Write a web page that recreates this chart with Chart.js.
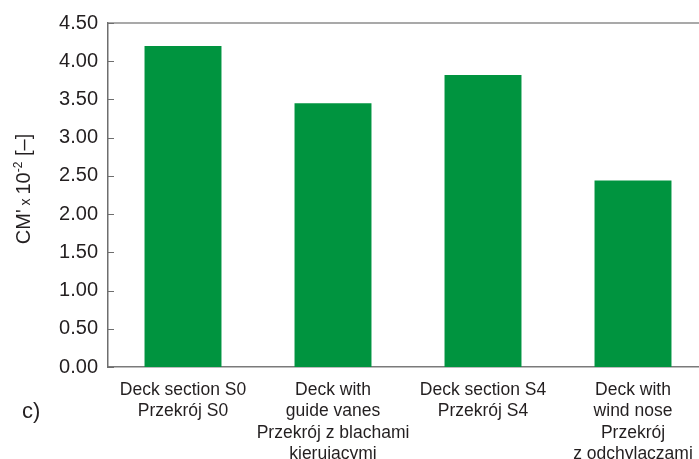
<!DOCTYPE html>
<html>
<head>
<meta charset="utf-8">
<script src="https://cdn.jsdelivr.net/npm/chart.js@4.4.1/dist/chart.umd.min.js"></script>
<style>
  html, body { margin: 0; padding: 0; background: #fff; overflow: hidden; }
  #wrap { position: absolute; left: 0; top: 0; width: 712px; height: 459px; }
</style>
</head>
<body>
<div id="wrap"><canvas id="c" width="712" height="459"></canvas></div>
<script>
// Aerodynamic moment coefficient CM' (x 10^-2) for four deck configurations
const categories = [
  ["Deck section S0", "Przekrój S0"],
  ["Deck with", "guide vanes", "Przekrój z blachami", "kierujacymi"],
  ["Deck section S4", "Przekrój S4"],
  ["Deck with", "wind nose", "Przekrój", "z odchylaczami"]
];
const cmValues = [4.20, 3.45, 3.82, 2.44];
const yTicks = [0, 0.5, 1, 1.5, 2, 2.5, 3, 3.5, 4, 4.5];

const FONT = '"Liberation Sans", Arial, Helvetica, sans-serif';
const TEXT = '#231f20';

// Frame line on top, inward tick marks, rotated axis title and panel label
const decor = {
  id: 'decor',
  afterDraw(chart) {
    const ctx = chart.ctx;
    const area = chart.chartArea;
    const y = chart.scales.y;
    ctx.save();
    // top frame line
    ctx.strokeStyle = '#8c8c8c';
    ctx.lineWidth = 1.6;
    ctx.beginPath();
    ctx.moveTo(area.left, area.top);
    ctx.lineTo(area.right, area.top);
    ctx.stroke();
    // inward ticks on value axis
    ctx.strokeStyle = '#6e6e6e';
    ctx.lineWidth = 1;
    y.ticks.forEach(t => {
      const py = Math.round(y.getPixelForValue(t.value)) + 0.5;
      ctx.beginPath();
      ctx.moveTo(area.left, py);
      ctx.lineTo(area.left + 6, py);
      ctx.stroke();
    });
    // axis title: CM' x 10^-2 [–]
    const parts = [
      { t: "CM'", size: 20, rise: 0 },
      { t: " x ", size: 14, rise: 0 },
      { t: "10", size: 20, rise: 0 },
      { t: "-2", size: 12, rise: 8 },
      { t: " [–]", size: 20, rise: 0 }
    ];
    let total = 0;
    parts.forEach(p => {
      ctx.font = p.size + 'px ' + FONT;
      p.w = ctx.measureText(p.t).width;
      total += p.w;
    });
    const cy = (area.top + area.bottom) / 2 - 6;
    ctx.translate(30, cy);
    ctx.rotate(-Math.PI / 2);
    ctx.fillStyle = TEXT;
    ctx.textBaseline = 'alphabetic';
    let x = -total / 2;
    parts.forEach(p => {
      ctx.font = p.size + 'px ' + FONT;
      ctx.fillText(p.t, x, -p.rise);
      x += p.w;
    });
    ctx.restore();
    // panel label
    ctx.save();
    ctx.font = '22px ' + FONT;
    ctx.fillStyle = TEXT;
    ctx.textBaseline = 'middle';
    ctx.fillText('c)', 22, 412);
    ctx.restore();
  }
};

new Chart(document.getElementById('c'), {
  type: 'bar',
  data: {
    labels: categories,
    datasets: [{
      data: cmValues,
      backgroundColor: '#00943f',
      borderWidth: 0,
      categoryPercentage: 1,
      barPercentage: 0.513
    }]
  },
  options: {
    responsive: false,
    devicePixelRatio: 1,
    animation: false,
    layout: { padding: { left: 0, right: 4, top: 23, bottom: 0 } },
    plugins: { legend: { display: false }, tooltip: { enabled: false } },
    scales: {
      x: {
        grid: { display: false, drawTicks: false },
        border: { display: true, color: '#7a7a7a', width: 1.5 },
        ticks: {
          color: TEXT,
          font: { family: FONT, size: 17.5, lineHeight: 1.23 },
          padding: 12,
          maxRotation: 0,
          autoSkip: false
        },
        afterFit(scale) { scale.height = 92; }
      },
      y: {
        min: 0,
        max: 4.5,
        afterBuildTicks(scale) { scale.ticks = yTicks.map(v => ({ value: v })); },
        grid: { display: false, drawTicks: false },
        border: { display: true, color: '#6e6e6e', width: 1.5 },
        ticks: {
          color: TEXT,
          font: { family: FONT, size: 20 },
          padding: 10,
          callback: v => Number(v).toFixed(2)
        },
        afterFit(scale) { scale.width = 108; }
      }
    }
  },
  plugins: [decor]
});
</script>
</body>
</html>
